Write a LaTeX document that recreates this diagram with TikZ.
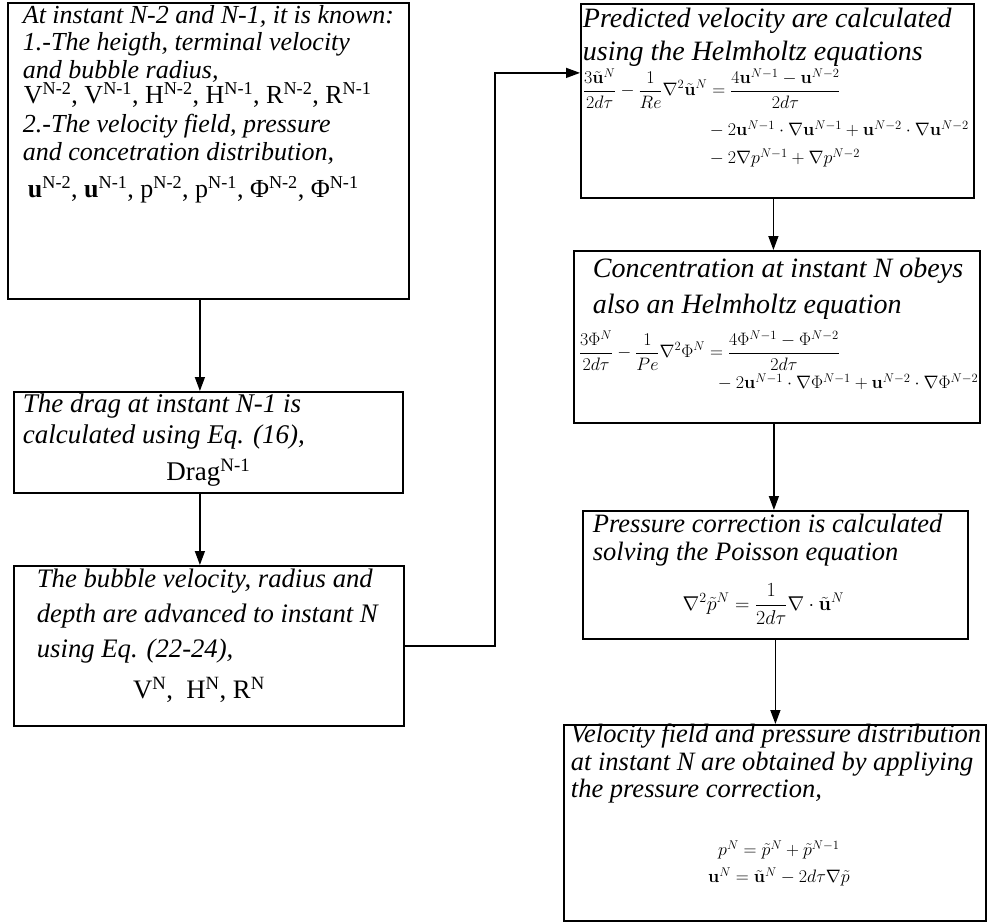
\RequirePackage{fix-cm}
\documentclass[tikz,border=0pt]{standalone}
\usepackage[no-math]{fontspec}
\setmainfont{Liberation Serif}
\usepackage{amsmath}
\usetikzlibrary{arrows.meta}

\newcommand{\sps}[1]{\textsuperscript{#1}}
\newcommand{\eqsize}{\fontsize{18}{0pt}\selectfont}
% one line of a box: offset from the left edge, then the text
\newcommand{\boxline}[2]{\hspace*{#1}\mbox{#2}}
% box body: width, height, font size, first baseline, lines
\newcommand{\boxbody}[5]{%
  \parbox[c][#2][t]{#1}{\fontsize{#3}{0pt}\selectfont\itshape
    \lineskiplimit=-\maxdimen\raggedright
    \mbox{}\\[#4]#5}}

\begin{document}
\begin{tikzpicture}[x=1pt, y=-1pt, >={Triangle[length=14pt,width=10pt]},
                    stepbox/.style={draw, line width=1.8pt, inner sep=0pt, anchor=north west},
                    link/.style={->, line width=1.4pt}]
\useasboundingbox (0,0) rectangle (987,923);

% left column
\node[stepbox] (known) at (7,2) {\boxbody{401pt}{296pt}{26}{21pt}{%
  \boxline{15pt}{At instant N-2 and N-1, it is known:}\\[27pt]
  \boxline{15pt}{1.-The heigth, terminal velocity}\\[28pt]
  \boxline{15pt}{and bubble radius,}\\[25pt]
  \boxline{16pt}{\upshape V\sps{N-2}, V\sps{N-1}, H\sps{N-2}, H\sps{N-1}, R\sps{N-2}, R\sps{N-1}}\\[29pt]
  \boxline{15pt}{2.-The velocity field, pressure}\\[28pt]
  \boxline{15pt}{and concetration distribution,}\\[37pt]
  \boxline{20pt}{\upshape\textbf{u}\sps{N-2}, \textbf{u}\sps{N-1}, p\sps{N-2}, p\sps{N-1}, Φ\sps{N-2}, Φ\sps{N-1}}}};
\node[stepbox] (drag) at (13,391) {\boxbody{389pt}{101pt}{27}{21pt}{%
  \boxline{9pt}{The drag at instant N-1 is}\\[31pt]
  \boxline{9pt}{calculated using Eq. (16),}\\[37pt]
  \boxline{0pt}{\makebox[389pt]{\upshape Drag\sps{N-1}}}}};
\node[stepbox] (bubble) at (13,565) {\boxbody{390pt}{160pt}{26.7}{22pt}{%
  \boxline{23pt}{The bubble velocity, radius and}\\[35pt]
  \boxline{23pt}{depth are advanced to instant N}\\[35pt]
  \boxline{23pt}{using Eq. (22-24),}\\[41pt]
  \boxline{0pt}{\makebox[370pt]{\upshape V\sps{N}, \ H\sps{N}, R\sps{N}}}}};

% right column
\node[stepbox] (pred) at (580,3) {\boxbody{393pt}{194pt}{28}{24pt}{%
  \boxline{2pt}{Predicted velocity are calculated}\\[33pt]
  \boxline{2pt}{using the Helmholtz equations}\\[35pt]
  \boxline{2pt}{\eqsize $\displaystyle\frac{3\tilde{\mathbf u}^N}{2d\tau}-\frac{1}{Re}\nabla^2\tilde{\mathbf u}^N=\frac{4\mathbf u^{N-1}-\mathbf u^{N-2}}{2d\tau}$}\\[40pt]
  \boxline{125pt}{\eqsize ${}-2\mathbf u^{N-1}\cdot\nabla\mathbf u^{N-1}+\mathbf u^{N-2}\cdot\nabla\mathbf u^{N-2}$}\\[28pt]
  \boxline{125pt}{\eqsize ${}-2\nabla p^{N-1}+\nabla p^{N-2}$}}};
\node[stepbox] (conc) at (573,250) {\boxbody{406pt}{172pt}{28}{27pt}{%
  \boxline{19pt}{Concentration at instant N obeys}\\[36pt]
  \boxline{19pt}{also an Helmholtz equation}\\[44pt]
  \boxline{5pt}{\eqsize $\displaystyle\frac{3\Phi^N}{2d\tau}-\frac{1}{Pe}\nabla^2\Phi^N=\frac{4\Phi^{N-1}-\Phi^{N-2}}{2d\tau}$}\\[31pt]
  \boxline{140pt}{\eqsize ${}-2\mathbf u^{N-1}\cdot\nabla\Phi^{N-1}+\mathbf u^{N-2}\cdot\nabla\Phi^{N-2}$}}};
\node[stepbox] (press) at (582,510) {\boxbody{385pt}{128pt}{26.5}{22pt}{%
  \boxline{10pt}{Pressure correction is calculated}\\[28pt]
  \boxline{10pt}{solving the Poisson equation}\\[49.5pt]
  \boxline{0pt}{\makebox[361pt]{\fontsize{20}{0pt}\selectfont $\displaystyle\nabla^2\tilde p^N=\frac{1}{2d\tau}\nabla\cdot\tilde{\mathbf u}^N$}}}};
\node[stepbox] (vel) at (563,724) {\boxbody{422pt}{196pt}{26.5}{18pt}{%
  \boxline{7pt}{Velocity field and pressure distribution}\\[28pt]
  \boxline{7pt}{at instant N are obtained by appliying}\\[27pt]
  \boxline{7pt}{the pressure correction,}\\[58pt]
  \boxline{0pt}{\makebox[430pt]{\eqsize $p^N=\tilde p^N+\tilde p^{N-1}$}}\\[27pt]
  \boxline{0pt}{\makebox[430pt]{\eqsize $\mathbf u^N=\tilde{\mathbf u}^N-2d\tau\nabla\tilde p$}}}};

\draw[link] ([xshift=-8.5pt]known.south) -- ([xshift=-8.5pt]known.south |- drag.north);
\draw[link] ([xshift=-8.5pt]drag.south) -- ([xshift=-8.5pt]drag.south |- bubble.north);
\draw[link] (bubble.east) -- ++(90,0) |- ([yshift=28pt]pred.west);
\draw[link] ([xshift=-4pt]pred.south) -- ([xshift=-4pt]pred.south |- conc.north);
\draw[link] ([xshift=-3pt]conc.south) -- ([xshift=-3pt]conc.south |- press.north);
\draw[link] (press.south) -- (press.south |- vel.north);
\end{tikzpicture}
\end{document}
